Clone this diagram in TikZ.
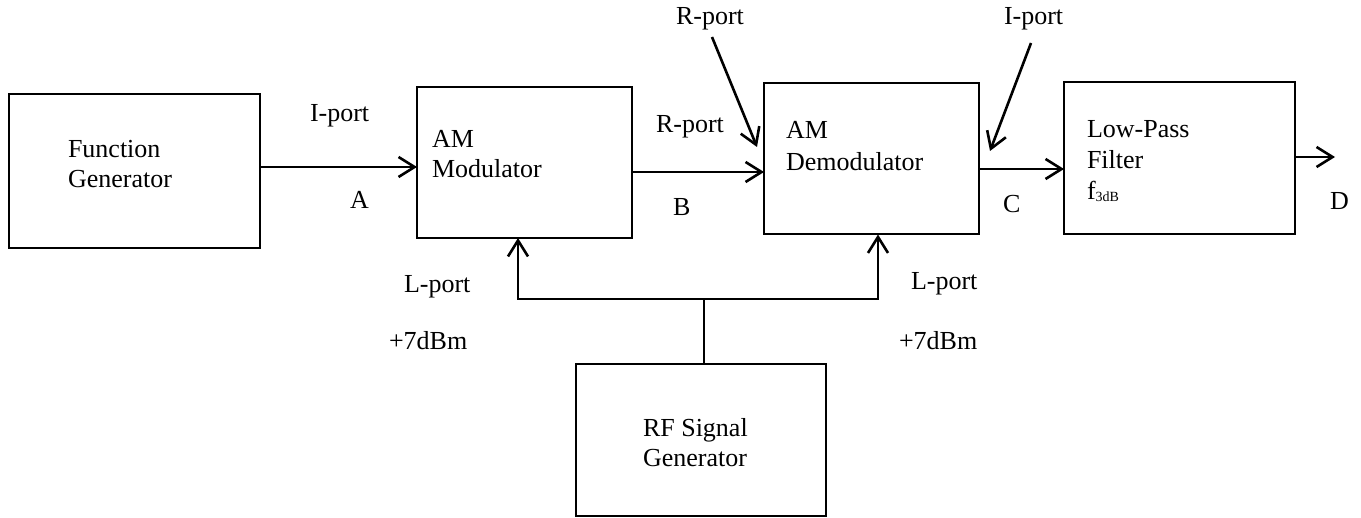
\documentclass[tikz,border=0pt]{standalone}
\usepackage{fontspec}
\setmainfont{Liberation Serif}
\usetikzlibrary{arrows.meta}
\begin{document}
\begin{tikzpicture}[x=1pt,y=-1pt,
  blk/.style={draw,line width=2pt,rectangle,inner sep=0pt,outer sep=0pt},
  txt/.style={anchor=base west,inner sep=0pt,outer sep=0pt,font=\fontsize{26}{30}\selectfont},
  arr/.style={line width=2.6pt,-{Straight Barb[length=16pt,width=20pt]}},
  arrb/.style={line width=2.6pt,{Straight Barb[length=16pt,width=20pt]}-{Straight Barb[length=16pt,width=20pt]}},
  thinln/.style={line width=1.6pt}]
\useasboundingbox (0,0) rectangle (1361,518);
% blocks
\node[blk,minimum width=251pt,minimum height=154pt] (fg)  at (134.5,171) {};
\node[blk,minimum width=215pt,minimum height=151pt] (mod) at (524.5,162.5) {};
\node[blk,minimum width=215pt,minimum height=151.5pt] (dem) at (871.5,158.75) {};
\node[blk,minimum width=231pt,minimum height=152pt] (lpf) at (1179.5,158) {};
\node[blk,minimum width=250pt,minimum height=152pt] (rf)  at (701,440) {};
% block texts
\node[txt] (fg1) at (68,158) {Function};
\node[txt] (fg2) at (68,188) {Generator};
\node[txt] (mod1) at (432,148) {AM};
\node[txt] (mod2) at (432,178) {Modulator};
\node[txt] (dem1) at (786,139) {AM};
\node[txt] (dem2) at (786,171) {Demodulator};
\node[txt] (lpf1) at (1087,138) {Low-Pass};
\node[txt] (lpf2) at (1087,169) {Filter};
\node[txt] (lpf3) at (1087,200) {f\raisebox{-2pt}{\fontsize{14}{14}\selectfont 3dB}};
\node[txt] (rf1) at (643,437) {RF Signal};
\node[txt] (rf2) at (643,467) {Generator};
% labels
\node[txt] (ip1) at (310,122) {I-port};
\node[txt] (la)  at (350,209) {A};
\node[txt] (rp1) at (656,133) {R-port};
\node[txt] (lb)  at (673,216) {B};
\node[txt] (rp2) at (676,25) {R-port};
\node[txt] (ip2) at (1004,25) {I-port};
\node[txt] (lc)  at (1003,213) {C};
\node[txt] (ld)  at (1330,210) {D};
\node[txt] (ll1) at (404,293) {L-port};
\node[txt] (ll2) at (389,350) {+7dBm};
\node[txt] (lr1) at (911,290) {L-port};
\node[txt] (lr2) at (899,350) {+7dBm};
% coordinates
\coordinate (rpS) at (712,37);
\coordinate (rpT) at (757,147);
\coordinate (ipS) at (1031,43);
\coordinate (ipT) at (990,151);
\coordinate (dOut) at (1335,157);
\coordinate (jn) at (704,299);
\coordinate (busL) at (518,299);
\coordinate (busR) at (878,299);
% connectors
\draw[arr] (fg.east |- 0,167) -- (mod.west |- 0,167);
\draw[arr] (mod.east |- 0,172) -- (dem.west |- 0,172);
\draw[arr] (dem.east |- 0,169) -- (lpf.west |- 0,169);
\draw[arr] (lpf.east |- dOut) -- (dOut);
\draw[arr] (rpS) -- (rpT);
\draw[arr] (ipS) -- (ipT);
\draw[thinln] (rf.north -| jn) -- (jn);
\draw[arrb] (busL |- mod.south) -- (busL) -- (busR) -- (busR |- dem.south);
\end{tikzpicture}
\end{document}
